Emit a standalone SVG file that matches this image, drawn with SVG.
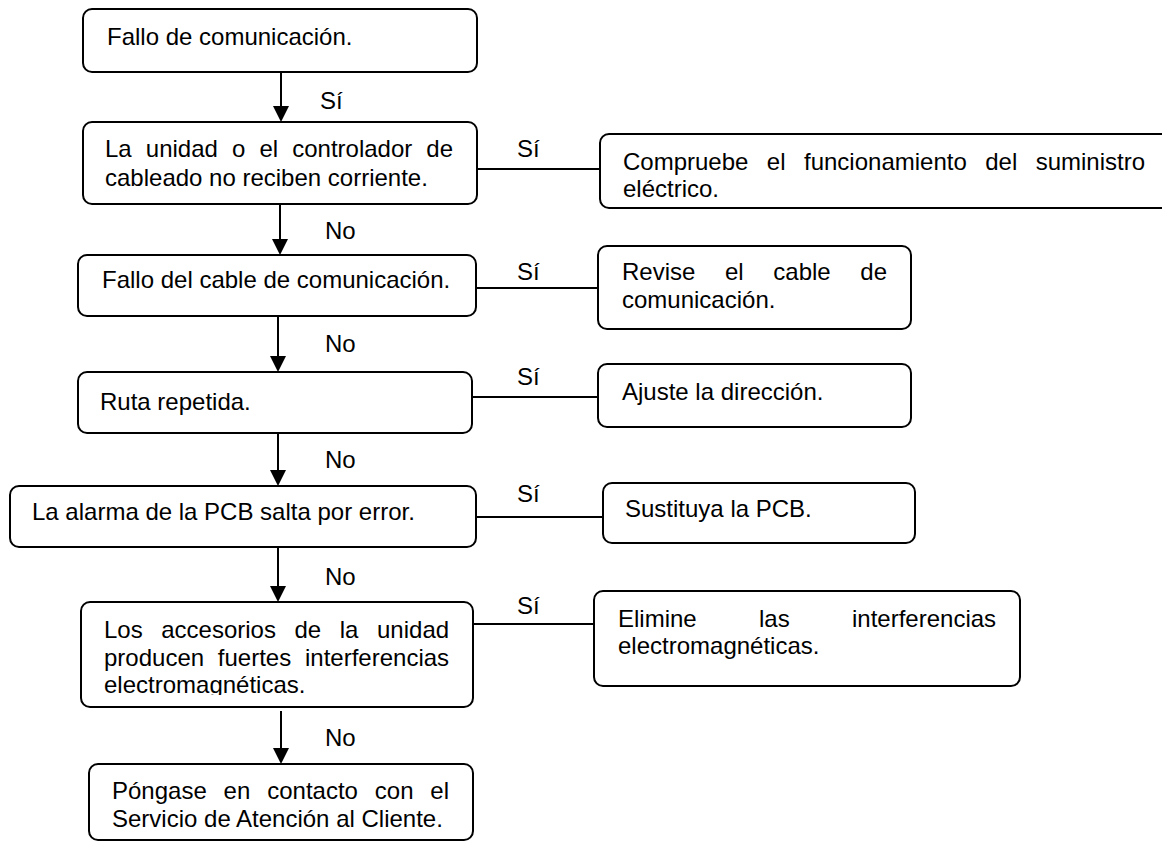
<svg xmlns="http://www.w3.org/2000/svg" width="1162" height="842" viewBox="0 0 1162 842">
<style>
.box{fill:#fff;stroke:#000;stroke-width:2}
.t{font-family:"Liberation Sans",Arial,sans-serif;font-size:24px;fill:#000}
.c{stroke:#000;stroke-width:2;fill:none}
</style>
<defs>
<marker id="ah" markerUnits="userSpaceOnUse" markerWidth="16" markerHeight="16" refX="12" refY="8" orient="auto" viewBox="0 0 16 16">
<path d="M0,0 L16,8 L0,16 z" fill="#000"/>
</marker>
<clipPath id="clip6"><rect x="81" y="602" width="392" height="93"/></clipPath>
</defs>
<rect width="1162" height="842" fill="#fff"/>

<g id="connectors">
<line class="c" x1="281" y1="72" x2="281" y2="118" marker-end="url(#ah)"/>
<line class="c" x1="280" y1="204" x2="280" y2="251" marker-end="url(#ah)"/>
<line class="c" x1="278" y1="316" x2="278" y2="368" marker-end="url(#ah)"/>
<line class="c" x1="278" y1="433" x2="278" y2="482" marker-end="url(#ah)"/>
<line class="c" x1="278" y1="547" x2="278" y2="598" marker-end="url(#ah)"/>
<line class="c" x1="281" y1="711" x2="281" y2="760" marker-end="url(#ah)"/>
<line class="c" x1="477" y1="169" x2="600" y2="169"/>
<line class="c" x1="476" y1="288" x2="598" y2="288"/>
<line class="c" x1="472" y1="397" x2="598" y2="397"/>
<line class="c" x1="476" y1="517" x2="603" y2="517"/>
<line class="c" x1="473" y1="624" x2="594" y2="624"/>
<text class="t" x="320" y="109">Sí</text>
<text class="t" x="325" y="239">No</text>
<text class="t" x="325" y="352">No</text>
<text class="t" x="325" y="468">No</text>
<text class="t" x="325" y="585">No</text>
<text class="t" x="325" y="746">No</text>
<text class="t" x="517" y="157">Sí</text>
<text class="t" x="517" y="280">Sí</text>
<text class="t" x="517" y="385">Sí</text>
<text class="t" x="517" y="502">Sí</text>
<text class="t" x="517" y="614">Sí</text>
</g>

<g id="n1">
<rect class="box" x="83" y="9" width="394" height="63" rx="9"/>
<text class="t" x="107" y="45">Fallo de comunicación.</text>
</g>

<g id="n2">
<rect class="box" x="83" y="122" width="394" height="82" rx="9"/>
<text class="t" y="157"><tspan x="105">La</tspan><tspan x="145.8">unidad</tspan><tspan x="232">o</tspan><tspan x="259.4">el</tspan><tspan x="292.2">controlador</tspan><tspan x="426.3">de</tspan></text>
<text class="t" x="105" y="186">cableado no reciben corriente.</text>
</g>

<g id="n3">
<rect class="box" x="78" y="255" width="398" height="61" rx="9"/>
<text class="t" x="102" y="288">Fallo del cable de comunicación.</text>
</g>

<g id="n4">
<rect class="box" x="78" y="372" width="394" height="61" rx="9"/>
<text class="t" x="100" y="410">Ruta repetida.</text>
</g>

<g id="n5">
<rect class="box" x="10" y="486" width="466" height="61" rx="9"/>
<text class="t" x="32" y="520">La alarma de la PCB salta por error.</text>
</g>

<g id="n6">
<rect class="box" x="81" y="602" width="392" height="105" rx="9"/>
<g clip-path="url(#clip6)">
<text class="t" y="638"><tspan x="104">Los</tspan><tspan x="161.2">accesorios</tspan><tspan x="294.5">de</tspan><tspan x="339.7">la</tspan><tspan x="377">unidad</tspan></text>
<text class="t" y="666"><tspan x="104">producen</tspan><tspan x="217.8">fuertes</tspan><tspan x="305">interferencias</tspan></text>
<text class="t" x="104" y="693">electromagnéticas.</text>
</g>
</g>

<g id="n7">
<rect class="box" x="89" y="764" width="384" height="76" rx="9"/>
<text class="t" y="799"><tspan x="112">Póngase</tspan><tspan x="223.6">en</tspan><tspan x="267.2">contacto</tspan><tspan x="374.8">con</tspan><tspan x="430.3">el</tspan></text>
<text class="t" x="112" y="827">Servicio de Atención al Cliente.</text>
</g>

<g id="r1">
<rect class="box" x="600" y="134" width="580" height="74" rx="9"/>
<text class="t" y="170"><tspan x="623">Compruebe</tspan><tspan x="766.8">el</tspan><tspan x="804">funcionamiento</tspan><tspan x="985.2">del</tspan><tspan x="1035.7">suministro</tspan></text>
<text class="t" x="623" y="197">eléctrico.</text>
</g>

<g id="r2">
<rect class="box" x="598" y="246" width="313" height="83" rx="9"/>
<text class="t" y="280"><tspan x="622">Revise</tspan><tspan x="725">el</tspan><tspan x="773.3">cable</tspan><tspan x="860.3">de</tspan></text>
<text class="t" x="622" y="308">comunicación.</text>
</g>

<g id="r3">
<rect class="box" x="598" y="364" width="313" height="63" rx="9"/>
<text class="t" x="622" y="400">Ajuste la dirección.</text>
</g>

<g id="r4">
<rect class="box" x="603" y="483" width="312" height="60" rx="9"/>
<text class="t" x="625" y="517">Sustituya la PCB.</text>
</g>

<g id="r5">
<rect class="box" x="594" y="591" width="426" height="95" rx="9"/>
<text class="t" y="627"><tspan x="618">Elimine</tspan><tspan x="759">las</tspan><tspan x="852">interferencias</tspan></text>
<text class="t" x="618" y="654">electromagnéticas.</text>
</g>
</svg>
